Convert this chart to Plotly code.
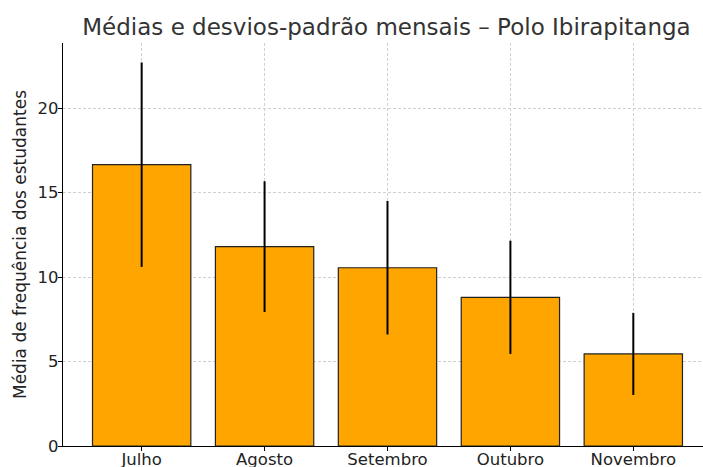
import plotly.graph_objects as go

meses = ["Julho", "Agosto", "Setembro", "Outubro", "Novembro"]
medias = [16.65, 11.8, 10.55, 8.8, 5.45]
desvios = [6.05, 3.87, 3.95, 3.35, 2.43]

fig = go.Figure()
fig.add_trace(go.Bar(
    x=list(range(len(meses))),
    y=medias,
    width=0.8,
    marker=dict(color="#FFA500", line=dict(color="#222222", width=1.2)),
    error_y=dict(type="data", array=desvios, visible=True, color="black", thickness=2, width=0),
))

fig.update_layout(
    width=703, height=467,
    margin=dict(l=63, r=0, t=43, b=21, autoexpand=False),
    paper_bgcolor="white", plot_bgcolor="white",
    font=dict(family="DejaVu Sans", color="#222222", size=16.5),
    title=dict(text="Médias e desvios-padrão mensais – Polo Ibirapitanga",
               x=386.5 / 703, xanchor="center", xref="container",
               y=1 - 27 / 467, yanchor="middle", yref="container",
               font=dict(size=23, color="#333333")),
    showlegend=False,
)
fig.update_xaxes(
    tickmode="array", tickvals=list(range(len(meses))), ticktext=meses,
    range=[-0.64, 4.567],
    showgrid=True, gridcolor="#d0d0d0", griddash="3px,2px", gridwidth=0.8,
    showline=True, linecolor="black", linewidth=1.3,
    ticks="outside", ticklen=4, tickcolor="black",
    ticklabelstandoff=-6,
    zeroline=False, automargin=False,
)
fig.update_yaxes(
    range=[0, 23.85],
    tickvals=[0, 5, 10, 15, 20],
    showgrid=True, gridcolor="#d0d0d0", griddash="3px,2px", gridwidth=0.8,
    showline=True, linecolor="black", linewidth=1.3,
    ticks="outside", ticklen=4, tickcolor="black",
    ticklabelstandoff=-4,
    zeroline=False, automargin=False,
    title=dict(text="Média de frequência dos estudantes", font=dict(size=17), standoff=6),
)

fig.write_html("out.html", config={"displayModeBar": False},
               post_script="document.body.style.margin='0';")
